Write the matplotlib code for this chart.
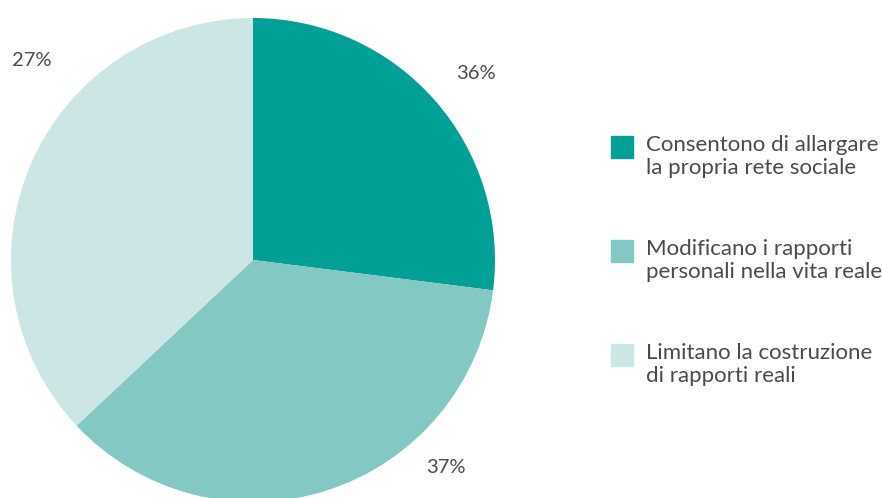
import numpy as np
import matplotlib.pyplot as plt
from matplotlib.patches import Rectangle

plt.rcParams['font.family'] = ['Lato', 'DejaVu Sans']

# slice shares as drawn, clockwise from 12 o'clock
shares = [27, 36, 37]
pct_labels = ['36%', '37%', '27%']
label_angle = [40, -47, 138]     # degrees, where each % label sits
label_r = [1.20, 1.17, 1.23]
categories = ['Consentono di allargare\nla propria rete sociale',
              'Modificano i rapporti\npersonali nella vita reale',
              'Limitano la costruzione\ndi rapporti reali']
colors = ['#00A096', '#83C8C3', '#CBE6E4']
txt = '#4a4a4a'

fig = plt.figure(figsize=(8.82, 4.98), dpi=100)
ax = fig.add_axes([253/882 - 242/882, 1 - 260/498 - 242/498, 484/882, 484/498])
ax.pie(shares, colors=colors, startangle=90, counterclock=False, radius=1,
       wedgeprops=dict(linewidth=0))
ax.set_xlim(-1, 1)
ax.set_ylim(-1, 1)
ax.set_aspect('equal')
ax.axis('off')

for lab, a, r in zip(pct_labels, label_angle, label_r):
    t = np.deg2rad(a)
    ax.text(r*np.cos(t), r*np.sin(t), lab, ha='center', va='center',
            fontsize=14.5, color=txt, clip_on=False)

# legend drawn by hand: square lined up with first text line
for i, (cat, c) in enumerate(zip(categories, colors)):
    ytop = 136 + i*104
    fig.patches.append(Rectangle((611/882, 1 - (ytop+22)/498), 22/882, 22/498,
                                 transform=fig.transFigure, color=c))
    fig.text(646/882, 1 - (ytop - 1)/498, cat, ha='left', va='top',
             fontsize=16, color=txt, linespacing=1.2)

fig.savefig('out.png', dpi=100)
